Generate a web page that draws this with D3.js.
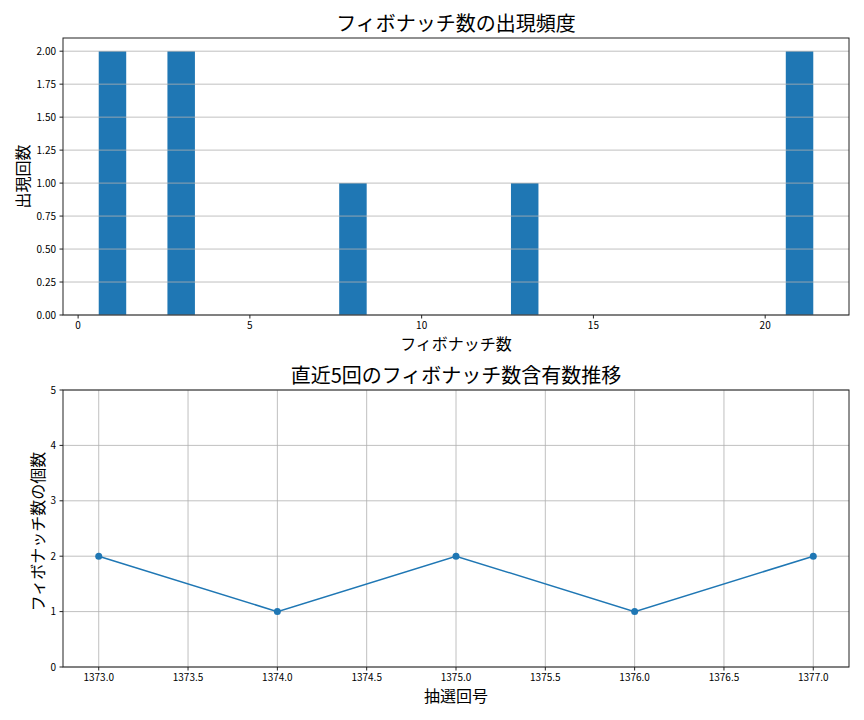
<!DOCTYPE html>
<html>
<head>
<meta charset="utf-8">
<script src="https://cdn.jsdelivr.net/npm/d3@7"></script>
<style>
  body { margin: 0; background: #fff; }
  text { font-family: "Noto Sans CJK JP", "Noto Sans", sans-serif; fill: #000; }
</style>
</head>
<body>
<div id="chart"></div>
<script>
// data
const fibNumbers = [1, 3, 8, 13, 21];
const fibCounts = [2, 2, 1, 1, 2];
const drawNumbers = [1373, 1374, 1375, 1376, 1377];
const fibPerDraw = [2, 1, 2, 1, 2];
const histTicksY = [0, 0.25, 0.5, 0.75, 1, 1.25, 1.5, 1.75, 2];
const histTicksX = [0, 5, 10, 15, 20];
const lineTicksX = [1373, 1373.5, 1374, 1374.5, 1375, 1375.5, 1376, 1376.5, 1377];
const lineTicksY = [0, 1, 2, 3, 4, 5];

const width = 864, height = 720;
const blue = "#1f77b4", gridColor = "#b0b0b0";
const left = 63, right = 849;

const svg = d3.select("#chart").append("svg")
  .attr("width", width).attr("height", height);

function frame(g, x, y) {
  g.append("rect")
    .attr("x", x.range()[0]).attr("y", y.range()[1])
    .attr("width", x.range()[1] - x.range()[0])
    .attr("height", y.range()[0] - y.range()[1])
    .attr("fill", "none").attr("stroke", "#222").attr("stroke-width", 1);
}

function ticks(g, x, y, xt, yt, xfmt, yfmt) {
  const yb = y.range()[0];
  const xa = g.append("g");
  xt.forEach(t => {
    xa.append("line").attr("x1", x(t)).attr("x2", x(t))
      .attr("y1", yb).attr("y2", yb + 3.5).attr("stroke", "#222");
    xa.append("text").attr("x", x(t)).attr("y", yb + 14)
      .attr("text-anchor", "middle").style("font-size", "10px").text(xfmt(t));
  });
  const ya = g.append("g");
  yt.forEach(t => {
    ya.append("line").attr("x1", left - 3.5).attr("x2", left)
      .attr("y1", y(t)).attr("y2", y(t)).attr("stroke", "#222");
    ya.append("text").attr("x", left - 7).attr("y", y(t)).attr("dy", "0.35em")
      .attr("text-anchor", "end").style("font-size", "10px").text(yfmt(t));
  });
}

// ---- top: histogram ----
const x1 = d3.scaleLinear().domain([-0.44, 22.44]).range([left, right]);
const y1 = d3.scaleLinear().domain([0, 2.1]).range([315, 38]);
const histG = svg.append("g");

histG.selectAll("rect.bar")
  .data(fibNumbers.map((n, i) => ({n: n, c: fibCounts[i]})))
  .join("rect")
    .attr("class", "bar")
    .attr("x", d => x1(d.n - 0.4))
    .attr("width", d => x1(d.n + 0.4) - x1(d.n - 0.4))
    .attr("y", d => y1(d.c))
    .attr("height", d => y1(0) - y1(d.c))
    .attr("fill", blue);

// grid sits above the bars like matplotlib's default
histG.append("g").selectAll("line")
  .data(histTicksY)
  .join("line")
    .attr("x1", left).attr("x2", right)
    .attr("y1", d => y1(d)).attr("y2", d => y1(d))
    .attr("stroke", gridColor).attr("stroke-width", 0.8);

frame(histG, x1, y1);
ticks(histG, x1, y1, histTicksX, histTicksY, d3.format("d"), d3.format(".2f"));

histG.append("text").attr("x", (left + right) / 2).attr("y", 31)
  .attr("text-anchor", "middle").style("font-size", "20px")
  .text("フィボナッチ数の出現頻度");
histG.append("text").attr("x", (left + right) / 2).attr("y", 350)
  .attr("text-anchor", "middle").style("font-size", "16px")
  .text("フィボナッチ数");
histG.append("text")
  .attr("transform", `translate(29, ${(38 + 315) / 2}) rotate(-90)`)
  .attr("text-anchor", "middle").style("font-size", "16px")
  .text("出現回数");

// ---- bottom: line chart ----
const x2 = d3.scaleLinear().domain([1372.8, 1377.2]).range([left, right]);
const y2 = d3.scaleLinear().domain([0, 5]).range([667, 390]);
const lineG = svg.append("g");

lineG.append("g").selectAll("line")
  .data(lineTicksY)
  .join("line")
    .attr("x1", left).attr("x2", right)
    .attr("y1", d => y2(d)).attr("y2", d => y2(d))
    .attr("stroke", gridColor).attr("stroke-width", 0.8);
lineG.append("g").selectAll("line")
  .data(lineTicksX)
  .join("line")
    .attr("x1", d => x2(d)).attr("x2", d => x2(d))
    .attr("y1", y2(0)).attr("y2", y2(5))
    .attr("stroke", gridColor).attr("stroke-width", 0.8);

const pts = drawNumbers.map((n, i) => ({n: n, v: fibPerDraw[i]}));
lineG.append("path")
  .datum(pts)
  .attr("fill", "none").attr("stroke", blue).attr("stroke-width", 1.5)
  .attr("d", d3.line().x(d => x2(d.n)).y(d => y2(d.v)));
lineG.selectAll("circle")
  .data(pts)
  .join("circle")
    .attr("cx", d => x2(d.n)).attr("cy", d => y2(d.v))
    .attr("r", 3.5).attr("fill", blue);

frame(lineG, x2, y2);
ticks(lineG, x2, y2, lineTicksX, lineTicksY, d3.format(".1f"), d3.format("d"));

lineG.append("text").attr("x", (left + right) / 2).attr("y", 383)
  .attr("text-anchor", "middle").style("font-size", "20px")
  .text("直近5回のフィボナッチ数含有数推移");
lineG.append("text").attr("x", (left + right) / 2).attr("y", 702)
  .attr("text-anchor", "middle").style("font-size", "16px")
  .text("抽選回号");
lineG.append("text")
  .attr("transform", `translate(44, ${(390 + 667) / 2 + 3}) rotate(-90)`)
  .attr("text-anchor", "middle").style("font-size", "16px")
  .text("フィボナッチ数の個数");
</script>
</body>
</html>
